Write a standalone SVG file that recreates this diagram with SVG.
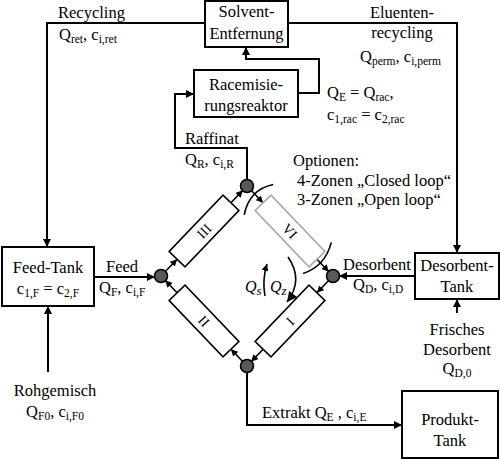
<svg xmlns="http://www.w3.org/2000/svg" width="500" height="460" viewBox="0 0 500 460">
<style>
text{font-family:"Liberation Serif","Times New Roman",serif;fill:#000}
.t{font-size:16.5px}
.m{text-anchor:middle}
.s{font-size:11.5px}
.num{font-size:14px;text-anchor:middle}
.q{font-style:italic;font-size:16px}
.qs{font-size:13px}
.box{fill:#fff;stroke:#000;stroke-width:2}
.col{fill:#fff;stroke:#000;stroke-width:1.6}
.colg{fill:#fff;stroke:#a8a8a8;stroke-width:1.6}
.ln{fill:none;stroke:#000;stroke-width:2}
.sl{fill:none;stroke:#000;stroke-width:1.6}
.node{fill:#595959;stroke:#000;stroke-width:1.5}
</style>
<defs>
<marker id="ah" viewBox="0 0 10 10" refX="10" refY="5" markerWidth="9" markerHeight="8" markerUnits="userSpaceOnUse" orient="auto"><path d="M0,0 L10,5 L0,10 z"/></marker>
<marker id="sh" viewBox="0 0 10 10" refX="10" refY="5" markerWidth="7" markerHeight="7" markerUnits="userSpaceOnUse" orient="auto"><path d="M0,0 L10,5 L0,10 z"/></marker>
<marker id="bh" viewBox="0 0 10 10" refX="10" refY="5" markerWidth="11" markerHeight="10" markerUnits="userSpaceOnUse" orient="auto"><path d="M0,0 L10,5 L0,10 z"/></marker>
</defs>

<g id="connectors">
<polyline class="ln" points="205,23 47,23 47,247" marker-end="url(#ah)"/>
<polyline class="ln" points="288,23 457,23 457,253" marker-end="url(#ah)"/>
<polyline class="ln" points="247,180 247,148 175,148 175,94 194,94" marker-end="url(#ah)"/>
<polyline class="ln" points="298,93 319,93 319,59 246,59 246,47" marker-end="url(#ah)"/>
<line class="ln" x1="94" y1="277" x2="155" y2="277" marker-end="url(#ah)"/>
<line class="ln" x1="48" y1="372" x2="48" y2="306" marker-end="url(#ah)"/>
<line class="ln" x1="415" y1="276" x2="339" y2="276" marker-end="url(#ah)"/>
<line class="ln" x1="457" y1="313" x2="457" y2="299" marker-end="url(#ah)"/>
<polyline class="ln" points="247,372 247,425 402,425" marker-end="url(#ah)"/>
<line class="sl" x1="165.1" y1="271.7" x2="177.1" y2="259.2" marker-end="url(#sh)"/>
<line class="sl" x1="230.9" y1="202.8" x2="242.9" y2="190.3" marker-end="url(#sh)"/>
<line class="sl" x1="251.1" y1="190.3" x2="263.1" y2="202.8" marker-end="url(#sh)"/>
<line class="sl" x1="316.9" y1="259.2" x2="328.9" y2="271.7" marker-end="url(#sh)"/>
<line class="sl" x1="328.9" y1="280.3" x2="316.9" y2="292.8" marker-end="url(#sh)"/>
<line class="sl" x1="263.1" y1="349.2" x2="251.1" y2="361.7" marker-end="url(#sh)"/>
<line class="sl" x1="242.9" y1="361.7" x2="230.9" y2="349.2" marker-end="url(#sh)"/>
<line class="sl" x1="177.1" y1="292.8" x2="165.1" y2="280.3" marker-end="url(#sh)"/>
<g transform="translate(247,186) rotate(46.3)">
<path class="sl" d="M19,22 Q4,1 17,-20"/>
<path class="sl" d="M102,20 Q112,-1 99,-22"/>
</g>
<path class="sl" d="M265,296 Q262,280 267,264" marker-end="url(#sh)"/>
<path class="sl" d="M288,257 Q304,280 287,302" marker-end="url(#bh)"/>
</g>

<g id="solvent"><rect class="box" x="205" y="1" width="83" height="46"/>
<text class="t m" x="246.5" y="17">Solvent-</text><text class="t m" x="246.5" y="39">Entfernung</text></g>
<g id="racemisierung"><rect class="box" x="194" y="70" width="104" height="47"/>
<text class="t m" x="246" y="90">Racemisie-</text><text class="t m" x="246" y="111">rungsreaktor</text></g>
<g id="feedtank"><rect class="box" x="2" y="247" width="92" height="59"/>
<text class="t m" x="48" y="273">Feed-Tank</text>
<text class="t m" x="48" y="294">c<tspan class="s" dy="3">1,F</tspan><tspan dy="-3"> = c</tspan><tspan class="s" dy="3">2,F</tspan></text></g>
<g id="desorbenttank"><rect class="box" x="415" y="253" width="84" height="46"/>
<text class="t m" x="457" y="271">Desorbent-</text><text class="t m" x="457" y="292">Tank</text></g>
<g id="produkttank"><rect class="box" x="402" y="391" width="96" height="67"/>
<text class="t m" x="450" y="425">Produkt-</text><text class="t m" x="450" y="446">Tank</text></g>

<g id="col-III" transform="translate(204,231) rotate(-46.3)"><rect class="col" x="-39" y="-11" width="78" height="22"/><text class="num" x="0" y="5">III</text></g>
<g id="col-VI" transform="translate(290,231) rotate(46.3)"><rect class="colg" x="-39" y="-11" width="78" height="22"/><text class="num" x="0" y="5">VI</text></g>
<g id="col-I" transform="translate(290,321) rotate(-46.3)"><rect class="col" x="-39" y="-11" width="78" height="22"/><text class="num" x="0" y="5">I</text></g>
<g id="col-II" transform="translate(204,321) rotate(46.3)"><rect class="col" x="-39" y="-11" width="78" height="22"/><text class="num" x="0" y="5">II</text></g>

<g id="nodes">
<circle class="node" cx="247" cy="186" r="6.5"/>
<circle class="node" cx="161" cy="276" r="6.5"/>
<circle class="node" cx="333" cy="276" r="6.5"/>
<circle class="node" cx="247" cy="366" r="6.5"/>
</g>

<g id="labels">
<text class="t" x="58" y="18">Recycling</text>
<text class="t" x="59" y="40">Q<tspan class="s" dy="3">ret</tspan><tspan dy="-3">,  c</tspan><tspan class="s" dy="3">i,ret</tspan></text>
<text class="t m" x="402" y="18">Eluenten-</text>
<text class="t m" x="402" y="38">recycling</text>
<text class="t" x="360" y="62">Q<tspan class="s" dy="3">perm</tspan><tspan dy="-3">,  c</tspan><tspan class="s" dy="3">i,perm</tspan></text>
<text class="t" x="327" y="98">Q<tspan class="s" dy="3">E</tspan><tspan dy="-3"> = Q</tspan><tspan class="s" dy="3">rac</tspan><tspan dy="-3">,</tspan></text>
<text class="t" x="327" y="120">c<tspan class="s" dy="3">1,rac</tspan><tspan dy="-3"> = c</tspan><tspan class="s" dy="3">2,rac</tspan></text>
<text class="t" x="185" y="144">Raffinat</text>
<text class="t" x="185" y="165">Q<tspan class="s" dy="3">R</tspan><tspan dy="-3">, c</tspan><tspan class="s" dy="3">i,R</tspan></text>
<text class="t" x="293" y="166">Optionen:</text>
<text class="t" x="297" y="186">4-Zonen „Closed loop“</text>
<text class="t" x="297" y="205">3-Zonen „Open loop“</text>
<text class="t m" x="122" y="272">Feed</text>
<text class="t" x="99" y="293">Q<tspan class="s" dy="3">F</tspan><tspan dy="-3">,  c</tspan><tspan class="s" dy="3">i,F</tspan></text>
<text class="t" x="343" y="270">Desorbent</text>
<text class="t" x="353" y="290">Q<tspan class="s" dy="3">D</tspan><tspan dy="-3">, c</tspan><tspan class="s" dy="3">i,D</tspan></text>
<text class="t m" x="457" y="335">Frisches</text>
<text class="t m" x="457" y="355">Desorbent</text>
<text class="t m" x="457" y="374">Q<tspan class="s" dy="3">D,0</tspan></text>
<text class="t" x="262" y="418">Extrakt Q<tspan class="s" dy="3">E</tspan><tspan dy="-3"> , c</tspan><tspan class="s" dy="3">i,E</tspan></text>
<text class="t m" x="55" y="396">Rohgemisch</text>
<text class="t m" x="55" y="417">Q<tspan class="s" dy="3">F0</tspan><tspan dy="-3">, c</tspan><tspan class="s" dy="3">i,F0</tspan></text>
<text class="q" x="245" y="292">Q<tspan class="qs" dy="3">s</tspan></text>
<text class="q" x="270" y="292">Q<tspan class="qs" dy="3">z</tspan></text>
</g>
</svg>
